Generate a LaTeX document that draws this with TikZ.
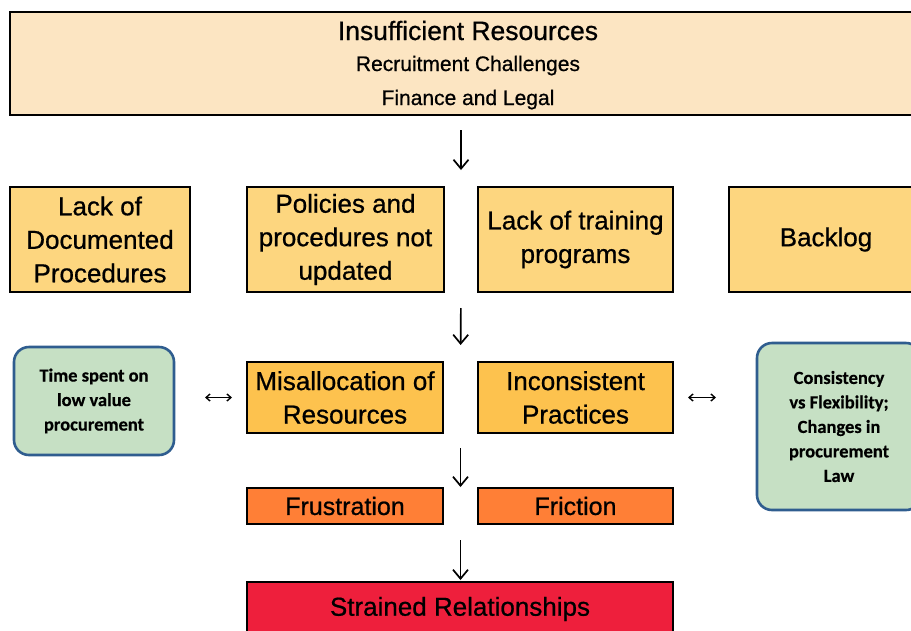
\documentclass[tikz,border=0pt]{standalone}
\usepackage{fontspec}
\setmainfont{Liberation Sans}[FakeBold=0.7]
\newfontfamily\greenfont{Carlito}[FakeBold=0.5]
\usetikzlibrary{arrows.meta,calc}
\definecolor{topfill}{HTML}{FCE5C2}
\definecolor{rowfill}{HTML}{FDD67F}
\definecolor{midfill}{HTML}{FDC24E}
\definecolor{emofill}{HTML}{FF7F36}
\definecolor{redfill}{HTML}{EE1F3C}
\definecolor{greenfill}{HTML}{C6E0C4}
\definecolor{greenline}{HTML}{2F5D8F}
\begin{document}
\begin{tikzpicture}[x=1pt,y=-1pt,
  box/.style={draw=black,line width=2.2pt,inner sep=0pt,outer sep=0pt,align=center,text=black},
  bigtxt/.style={font=\fontsize{26}{33.5}\selectfont},
  gbox/.style={draw=greenline,fill=greenfill,line width=2.6pt,rounded corners=15pt,inner sep=0pt,outer sep=0pt,align=center,font=\greenfont\bfseries\fontsize{18.5}{24.5}\selectfont},
  arr/.style={line width=1.7pt,-{Straight Barb[length=9pt,width=15pt,line width=1.7pt]}},
  dbl/.style={line width=1.4pt,{Straight Barb[length=4pt,width=7pt]}-{Straight Barb[length=4pt,width=7pt]}}
]
\useasboundingbox (0,0) rectangle (911,630);
\fill[white] (0,0) rectangle (911,630);

\node[box,fill=topfill,minimum width=916pt,minimum height=103pt] (top) at (468,63.5) {};
\node[anchor=base] (t1) at (468,40) {\fontsize{26.5}{28}\selectfont Insufficient Resources};
\node[anchor=base] (t2) at (468,71) {\fontsize{21}{24}\selectfont Recruitment Challenges};
\node[anchor=base] (t3) at (468,105) {\fontsize{21}{24}\selectfont Finance and Legal};

\node[box,bigtxt,fill=rowfill,minimum width=180pt,minimum height=105pt] (lack) at (100,239.5) {Lack of\\Documented\\Procedures};
\node[box,bigtxt,fill=rowfill,minimum width=197pt,minimum height=105pt] (pol) at (345.5,239.5) {Policies and\\procedures not\\updated};
\node[box,bigtxt,fill=rowfill,minimum width=195pt,minimum height=105pt] (lt) at (575.5,239.5) {Lack of training\\programs};
\node[box,bigtxt,fill=rowfill,minimum width=194pt,minimum height=105pt] (back) at (826,239.5) {Backlog};

\node[gbox,minimum width=160pt,minimum height=108pt] (g1) at (94,401) {Time spent on\\low value\\procurement};
\node[box,bigtxt,fill=midfill,minimum width=196pt,minimum height=71pt] (mis) at (345,397.5) {Misallocation of\\Resources};
\node[box,bigtxt,fill=midfill,minimum width=195pt,minimum height=71pt] (inc) at (575.5,397.5) {Inconsistent\\Practices};
\node[gbox,minimum width=164pt,minimum height=167pt] (g2) at (839,426.5) {Consistency\\vs Flexibility;\\Changes in\\procurement\\Law};

\node[box,font=\fontsize{25}{30}\selectfont,fill=emofill,minimum width=196pt,minimum height=36pt] (frus) at (345,506) {Frustration};
\node[box,font=\fontsize{25}{30}\selectfont,fill=emofill,minimum width=195pt,minimum height=36pt] (fric) at (575.5,506) {Friction};
\node[box,font=\fontsize{26}{30}\selectfont,fill=redfill,minimum width=426pt,minimum height=54pt] (str) at (460,609) {Strained Relationships};

\coordinate (m2a) at ($(pol.south east)!0.5!(lt.south west)$);
\coordinate (m2b) at ($(mis.north east)!0.5!(inc.north west)$);
\coordinate (m3a) at ($(mis.south east)!0.5!(inc.south west)$);
\coordinate (m3b) at ($(frus.north east)!0.5!(fric.north west)$);
\coordinate (m4a) at ($(frus.south east)!0.5!(fric.south west)$);

\draw[arr,shorten <=15pt,shorten >=17pt] (m2a |- top.south) -- (m2a |- lt.north);
\draw[arr,shorten <=16pt,shorten >=17pt] (m2a) -- (m2b);
\draw[arr,shorten <=15pt,shorten >=1pt] (m3a) -- (m3b);
\draw[arr,shorten <=16pt,shorten >=2pt] (m4a) -- (m4a |- str.north);

\draw[dbl,shorten <=31pt,shorten >=15pt] (g1.east |- mis.west) -- (mis.west);
\draw[dbl,shorten <=15pt,shorten >=41pt] (inc.east) -- (g2.west |- inc.east);
\end{tikzpicture}
\end{document}
